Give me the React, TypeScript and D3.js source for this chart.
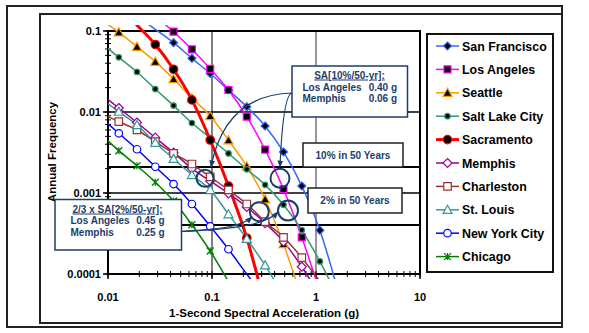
import React from "react";
import * as d3 from "d3";

// 1-second spectral acceleration (g) at which the hazard curves are tabulated
const saValues = [0.00844, 0.0127, 0.019, 0.0285, 0.0427, 0.0641, 0.0961, 0.144, 0.216, 0.324, 0.487, 0.73, 1.09, 1.64];

// annual frequency of exceedance per city (null = not plotted)
const sanFrancisco = [null, 0.22, 0.153, 0.105, 0.0717, 0.046, 0.0299, 0.0187, 0.0116, 0.00672, 0.00321, 0.00122, 0.000346, 0.00006];
const losAngeles = [null, null, 0.25, 0.153, 0.098, 0.0594, 0.0341, 0.0187, 0.00875, 0.00344, 0.00112, 0.000284, 0.00006, null];
const seattle = [0.14, 0.0964, 0.064, 0.0418, 0.0255, 0.0148, 0.00893, 0.00448, 0.00214, 0.000836, 0.000234, 0.00005, null, null];
const saltLakeCity = [0.073, 0.0473, 0.0312, 0.0192, 0.012, 0.00731, 0.00478, 0.00308, 0.00196, 0.00126, 0.000715, 0.000349, 0.000143, 0.00005];
const sacramento = [null, 0.2, 0.118, 0.0681, 0.0337, 0.0141, 0.00451, 0.00122, 0.000278, 0.00004, null, null, null, null];
const memphis = [0.0169, 0.0112, 0.00742, 0.00482, 0.00315, 0.002, 0.00141, 0.00099, 0.000672, 0.000423, 0.000251, 0.000123, 0.000054, null];
const charleston = [0.0098, 0.00759, 0.006, 0.0043, 0.00309, 0.00228, 0.00158, 0.00109, 0.000731, 0.000443, 0.000284, 0.000159, 0.000081, null];
const stLouis = [0.0149, 0.0101, 0.00691, 0.00418, 0.00264, 0.00167, 0.00109, 0.000547, 0.000272, 0.000128, 0.000054, null, null, null];
const newYorkCity = [0.0087, 0.00546, 0.00347, 0.00211, 0.00129, 0.000731, 0.000388, 0.000202, 0.0000995, 0.00005, null, null, null, null];
const chicago = [0.0054, 0.00333, 0.00217, 0.00136, 0.000797, 0.000406, 0.000192, 0.0000805, null, null, null, null, null, null];

const xTickLabels = ["0.01", "0.1", "1", "10"];
const yTickLabels = ["0.1", "0.01", "0.001", "0.0001"];

const freq10in50 = 0.0021;
const freq2in50 = 0.000404;

const series = [
  { name: "San Francisco", values: sanFrancisco, color: "#3366ff", shape: "diamond", fill: "#000", size: 8, width: 1.5 },
  { name: "Los Angeles", values: losAngeles, color: "#ff00ff", shape: "square", fill: "#000", size: 7, width: 1.5 },
  { name: "Seattle", values: seattle, color: "#ff9900", shape: "triangle", fill: "#000", size: 9, width: 1.5 },
  { name: "Salt Lake City", values: saltLakeCity, color: "#339966", shape: "circle", fill: "#000", size: 5.5, width: 1.5 },
  { name: "Sacramento", values: sacramento, color: "#ff0000", shape: "circle", fill: "#000", size: 8.5, width: 3 },
  { name: "Memphis", values: memphis, color: "#990099", shape: "diamond", fill: "#fff", size: 9, width: 1.5 },
  { name: "Charleston", values: charleston, color: "#993333", shape: "square", fill: "#fff", size: 7.5, width: 1.5 },
  { name: "St. Louis", values: stLouis, color: "#339999", shape: "triangle", fill: "#fff", size: 9, width: 1.5 },
  { name: "New York City", values: newYorkCity, color: "#0000ff", shape: "circle", fill: "#fff", size: 7.5, width: 1.5 },
  { name: "Chicago", values: chicago, color: "#008000", shape: "star", fill: "none", size: 7, width: 1.5 },
];

const FONT = "'Liberation Sans', Arial, Helvetica, sans-serif";
const NAVY = "#1c3d6b";

function markerPath(shape: string, s: number) {
  const h = s / 2;
  switch (shape) {
    case "diamond":
      return `M0,${-h}L${h},0L0,${h}L${-h},0Z`;
    case "square":
      return `M${-h},${-h}H${h}V${h}H${-h}Z`;
    case "triangle":
      return `M0,${-h}L${h},${h * 0.8}L${-h},${h * 0.8}Z`;
    case "circle":
      return d3.symbol(d3.symbolCircle, Math.PI * h * h)() as string;
    default:
      return `M${-h},${-h}L${h},${h}M${-h},${h}L${h},${-h}M0,${-h}V${h}`;
  }
}

export default function App() {
  const left = 108, right = 420, top = 31, bottom = 274;
  const x = d3.scaleLog().domain([0.01, 10]).range([left, right]);
  const y = d3.scaleLog().domain([0.0001, 0.1]).range([bottom, top]);

  const line = d3
    .line<[number, number]>()
    .x((d) => x(d[0]))
    .y((d) => y(d[1]))
    .curve(d3.curveMonotoneX);

  const minorX = x.ticks(30);
  const minorY = y.ticks(30);
  const xMajor = [0.01, 0.1, 1, 10];
  const yMajor = [0.1, 0.01, 0.001, 0.0001];

  const legendX = 427, legendY = 34, legendRow = 23.4;
  const ann = { fill: NAVY, fontWeight: "bold", fontSize: 10 } as const;

  return (
    <svg width={589} height={333} style={{ position: "absolute", left: 0, top: 0, background: "#fff" }} fontFamily={FONT}>
      <defs>
        <clipPath id="plotClip">
          <rect x={left} y={25} width={right - left} height={254} />
        </clipPath>
        <marker id="arrow" viewBox="0 0 10 10" refX="9" refY="5" markerWidth="6" markerHeight="6" orient="auto-start-reverse">
          <path d="M0,1L10,5L0,9Z" fill={NAVY} />
        </marker>
      </defs>

      {/* chart frames */}
      <rect x={7} y={6} width={555} height={321} fill="none" stroke="#222" strokeWidth={2} />
      <rect x={40} y={14} width={522} height={309} fill="#fff" stroke="#222" strokeWidth={2} />

      {/* gridlines */}
      {[0.01, 0.001].map((v) => (
        <line key={v} x1={left} x2={right} y1={y(v)} y2={y(v)} stroke="#000" strokeWidth={1.5} />
      ))}
      <line x1={x(0.1)} x2={x(0.1)} y1={top} y2={bottom} stroke="#000" strokeWidth={1} />
      <line x1={x(1)} x2={x(1)} y1={top} y2={bottom} stroke="#777" strokeWidth={1.5} />

      {/* hazard levels */}
      {[freq10in50, freq2in50].map((v) => (
        <line key={v} x1={left} x2={right} y1={y(v)} y2={y(v)} stroke="#000" strokeWidth={2} />
      ))}

      {/* plot frame */}
      <rect x={left} y={top} width={right - left} height={bottom - top} fill="none" stroke="#000" strokeWidth={2} />

      {/* axis ticks */}
      {minorY.map((v, i) => (
        <line key={"ym" + i} x1={left - 3} x2={left + 3} y1={y(v)} y2={y(v)} stroke="#000" strokeWidth={1} />
      ))}
      {yMajor.map((v) => (
        <line key={"yM" + v} x1={left - 5} x2={left} y1={y(v)} y2={y(v)} stroke="#000" strokeWidth={1.5} />
      ))}
      {minorX.map((v, i) => (
        <line key={"xm" + i} x1={x(v)} x2={x(v)} y1={bottom - 3} y2={bottom + 3} stroke="#000" strokeWidth={1} />
      ))}
      {xMajor.map((v) => (
        <line key={"xM" + v} x1={x(v)} x2={x(v)} y1={bottom} y2={bottom + 5} stroke="#000" strokeWidth={1.5} />
      ))}

      {/* tick labels */}
      {yMajor.map((v, i) => (
        <text key={"yl" + v} x={left - 7} y={y(v) + 4} textAnchor="end" fontSize={11} fontWeight="bold">
          {yTickLabels[i]}
        </text>
      ))}
      {xMajor.map((v, i) => (
        <text key={"xl" + v} x={x(v)} y={301} textAnchor="middle" fontSize={11} fontWeight="bold">
          {xTickLabels[i]}
        </text>
      ))}
      <text x={264} y={317} textAnchor="middle" fontSize={11.5} fontWeight="bold">
        1-Second Spectral Acceleration (g)
      </text>
      <text transform="translate(56,152) rotate(-90)" textAnchor="middle" fontSize={11.5} fontWeight="bold">
        Annual Frequency
      </text>

      {/* curves */}
      <g clipPath="url(#plotClip)">
        {series.map((s) => {
          const pts = saValues
            .map((sa, i) => [sa, s.values[i]] as [number, number | null])
            .filter((d) => d[1] != null) as [number, number][];
          return <path key={s.name} d={line(pts) || ""} fill="none" stroke={s.color} strokeWidth={s.width} />;
        })}
        {series.map((s) =>
          saValues.map((sa, i) => {
            const v = s.values[i];
            if (v == null || v > 0.1 || v < 0.0001 || sa < 0.01) return null;
            return (
              <path
                key={s.name + i}
                transform={`translate(${x(sa)},${y(v)})`}
                d={markerPath(s.shape, s.size)}
                fill={s.fill}
                stroke={s.color}
                strokeWidth={s.shape === "star" ? 1.3 : 1.2}
              />
            );
          })
        )}
      </g>

      {/* annotation boxes */}
      <rect x={303} y={143} width={100} height={24} fill="#fff" stroke="#222" strokeWidth={1.5} />
      <text {...ann} x={353} y={158.5} textAnchor="middle">10% in 50 Years</text>
      <rect x={308} y={188} width={94} height={25} fill="#fff" stroke="#222" strokeWidth={1.5} />
      <text {...ann} x={355} y={204} textAnchor="middle">2% in 50 Years</text>

      <rect x={292} y={66} width={115.5} height={51} fill="#fff" stroke={NAVY} strokeWidth={1.5} />
      <text {...ann} x={349.5} y={78.5} textAnchor="middle" textDecoration="underline">SA[10%/50-yr]:</text>
      <text {...ann} x={302.5} y={90.5}>Los Angeles</text>
      <text {...ann} x={397} y={90.5} textAnchor="end">0.40 g</text>
      <text {...ann} x={302.5} y={101.5}>Memphis</text>
      <text {...ann} x={397} y={101.5} textAnchor="end">0.06 g</text>

      <rect x={55} y={199.5} width={126.5} height={50.5} fill="#fff" stroke={NAVY} strokeWidth={1.5} />
      <text {...ann} x={117.5} y={212.5} textAnchor="middle" textDecoration="underline">2/3 x SA[2%/50-yr]:</text>
      <text {...ann} x={70.5} y={224}>Los Angeles</text>
      <text {...ann} x={164.5} y={224} textAnchor="end">0.45 g</text>
      <text {...ann} x={70.5} y={235.5}>Memphis</text>
      <text {...ann} x={164.5} y={235.5} textAnchor="end">0.25 g</text>

      {/* callout circles and connectors */}
      <g fill="none" stroke={NAVY}>
        <circle cx={205} cy={178.3} r={8.5} strokeWidth={2} />
        <circle cx={280} cy={178.3} r={9.5} strokeWidth={2} />
        <circle cx={259.3} cy={211.7} r={9.5} strokeWidth={2} />
        <circle cx={288} cy={210.5} r={10} strokeWidth={2} />
        <path d="M292,93 Q225,95 211,167" strokeWidth={1.2} markerEnd="url(#arrow)" />
        <path d="M292,93 Q283,95 280,167" strokeWidth={1.2} markerEnd="url(#arrow)" />
        <path d="M182,231.5 C215,229 240,228 252,217" strokeWidth={1.2} markerEnd="url(#arrow)" />
        <path d="M182,231.5 C230,229 265,226 278,212" strokeWidth={1.2} markerEnd="url(#arrow)" />
      </g>

      {/* legend */}
      <rect x={legendX} y={legendY} width={126} height={238} fill="#fff" stroke="#111" strokeWidth={2} />
      {series.map((s, i) => {
        const cy = 46 + i * legendRow;
        return (
          <g key={"lg" + s.name}>
            <line x1={436} x2={459} y1={cy} y2={cy} stroke={s.color} strokeWidth={s.width} />
            <path
              transform={`translate(447.5,${cy})`}
              d={markerPath(s.shape, s.size)}
              fill={s.fill}
              stroke={s.color}
              strokeWidth={1.2}
            />
            <text x={462} y={cy + 4.5} fontSize={12.4} fontWeight="bold" fill="#000">
              {s.name}
            </text>
          </g>
        );
      })}
    </svg>
  );
}
